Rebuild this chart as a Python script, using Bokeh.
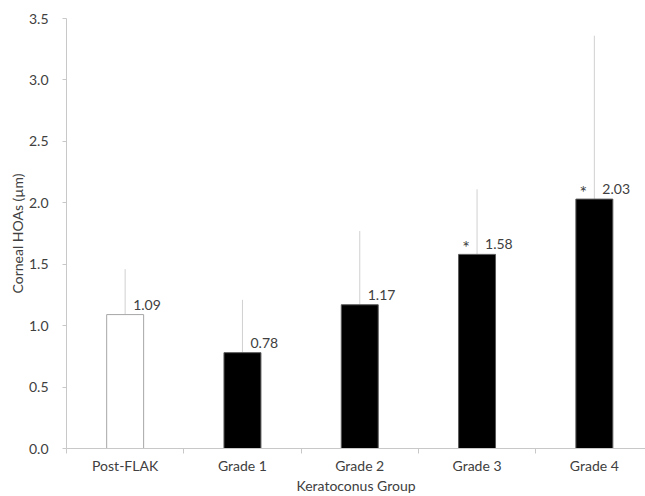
import numpy as np
from bokeh.plotting import figure
from bokeh.models import ColumnDataSource, Range1d, FixedTicker, NumeralTickFormatter
from bokeh.core.properties import value
from bokeh.embed import file_html
from bokeh.resources import INLINE

# Mean corneal higher-order aberrations per keratoconus group, with SD
groups = ["Post-FLAK", "Grade 1", "Grade 2", "Grade 3", "Grade 4"]
mean_hoa = [1.09, 0.78, 1.17, 1.58, 2.03]
sd_hoa = [0.37, 0.43, 0.60, 0.53, 1.33]
significant = [False, False, False, True, True]
y_ticks = [0.0, 0.5, 1.0, 1.5, 2.0, 2.5, 3.0, 3.5]

FONT = "Lato"
TEXT = "#404040"
AXIS = "#c8c8c8"
FS = "14px"

pos = np.arange(len(groups)) + 0.5
src = ColumnDataSource(dict(
    x=pos,
    mean=mean_hoa,
    top=np.array(mean_hoa) + np.array(sd_hoa),
    fill=["white" if i == 0 else "black" for i in range(len(groups))],
    line=["#a6a6a6" if i == 0 else "#595959" for i in range(len(groups))],
    label=[f"{m:.2f}" for m in mean_hoa],
    star=["*" if s else "" for s in significant],
))

p = figure(width=645, height=496, output_backend="svg", toolbar_location=None,
           x_range=Range1d(0, 4.936), y_range=Range1d(0, 3.5),
           min_border_left=66, min_border_right=0, min_border_top=18, min_border_bottom=48)
p.outline_line_color = None
p.background_fill_color = "white"
p.border_fill_color = "white"

# error bars (upper half only)
p.segment(x0="x", y0="mean", x1="x", y1="top", source=src, line_color="#d0d0d0", line_width=1)

p.vbar(x="x", top="mean", width=0.315, source=src, fill_color="fill", line_color="line", line_width=1)

p.text(x="x", y="mean", text="label", source=src, x_offset=8, y_offset=-5,
       text_align="left", text_baseline="bottom", text_font=value(FONT),
       text_font_size=FS, text_color=TEXT)
p.text(x="x", y="mean", text="star", source=src, x_offset=-11, y_offset=4,
       text_align="center", text_baseline="bottom", text_font=value(FONT),
       text_font_size="18px", text_color=TEXT)

# grid: only the top line
p.xgrid.visible = False
p.ygrid.ticker = FixedTicker(ticks=[3.5])
p.ygrid.grid_line_color = "#b8b8b8"

# y axis
ya = p.yaxis[0]
ya.ticker = FixedTicker(ticks=y_ticks)
ya.formatter = NumeralTickFormatter(format="0.0")
ya.axis_label = "Corneal HOAs (µm)"
ya.axis_line_color = AXIS
ya.major_tick_line_color = AXIS
ya.major_tick_out = 4
ya.major_tick_in = 0
ya.minor_tick_line_color = None
ya.major_label_standoff = 14
ya.axis_label_standoff = 0

# x axis: labels at group centres, tick marks at group boundaries
xa = p.xaxis[0]
xa.ticker = FixedTicker(ticks=list(pos), minor_ticks=list(np.arange(len(groups) + 1)))
xa.major_label_overrides = {float(x): g for x, g in zip(pos, groups)}
xa.axis_label = "Keratoconus Group"
xa.axis_line_color = AXIS
xa.major_tick_out = 0
xa.major_tick_in = 0
xa.minor_tick_line_color = AXIS
xa.minor_tick_out = 5
xa.minor_tick_in = 0
xa.major_label_standoff = 3
xa.axis_label_standoff = 0

for ax in (xa, ya):
    ax.major_label_text_font = FONT
    ax.major_label_text_font_size = FS
    ax.major_label_text_color = TEXT
    ax.axis_label_text_font = FONT
    ax.axis_label_text_font_size = FS
    ax.axis_label_text_font_style = "normal"
    ax.axis_label_text_color = TEXT

open("out.html", "w").write(file_html(p, INLINE))
